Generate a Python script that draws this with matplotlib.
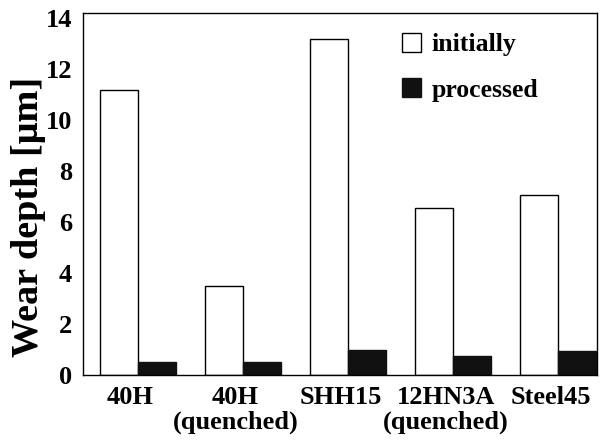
import matplotlib.pyplot as plt
import numpy as np

materials = ['40H', '40H\n(quenched)', 'SHH15', '12HN3A\n(quenched)', 'Steel45']
initially = [11.2, 3.5, 13.2, 6.55, 7.05]
processed = [0.5, 0.5, 1.0, 0.75, 0.95]

plt.rcParams['font.family'] = 'Liberation Serif'
plt.rcParams['font.weight'] = 'bold'

fig = plt.figure(figsize=(6.12, 4.40), dpi=100)
ax = fig.add_axes([0.1356, 0.1477, 0.840, 0.8227])

x = np.arange(len(materials))
w = 0.36
ax.bar(x - w / 2, initially, w, color='white', edgecolor='black', linewidth=1, label='initially')
ax.bar(x + w / 2, processed, w, color='#111111', edgecolor='#111111', linewidth=1, label='processed')

ax.set_xlim(-0.52, 4.37)
ax.set_ylim(0, 14.2)
ax.set_yticks(range(0, 15, 2))
ax.set_xticks(x - 0.07)
ax.set_xticklabels(materials, fontsize=19, fontweight='bold', linespacing=1.08)
ax.tick_params(axis='both', length=0, labelsize=19, pad=8)
for lbl in ax.get_yticklabels():
    lbl.set_fontweight('bold')
ax.set_ylabel('Wear depth [μm]', fontsize=27.5, fontweight='bold')
ax.yaxis.set_label_coords(-0.071, 0.436)
for s in ax.spines.values():
    s.set_linewidth(1)

ax.legend(loc='upper left', bbox_to_anchor=(0.62, 0.945), frameon=False,
          handlelength=0.75, handleheight=0.75, handletextpad=0.4, labelspacing=0.85,
          borderpad=0, borderaxespad=0, prop={'weight': 'bold', 'size': 18.5})

fig.savefig('out.png', dpi=100)
